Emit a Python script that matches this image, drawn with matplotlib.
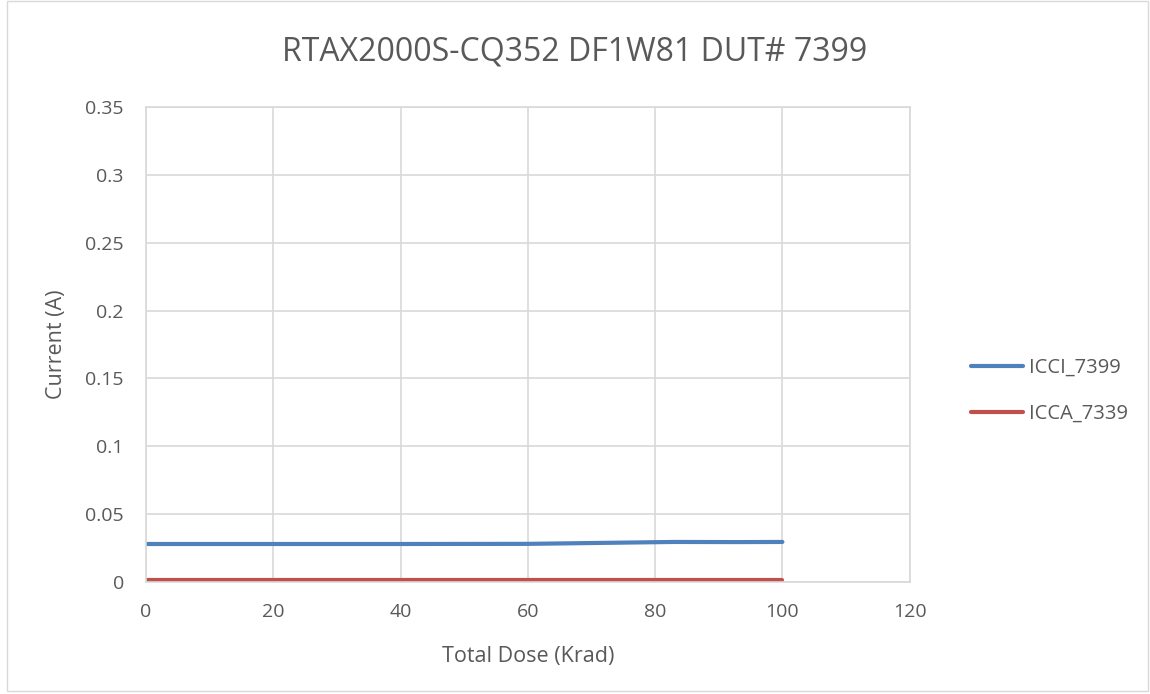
import matplotlib
matplotlib.use("Agg")
import matplotlib.pyplot as plt
from matplotlib.patches import Rectangle

dose = [0, 20, 40, 60, 83, 93, 100]
icci_7399 = [0.0280, 0.0280, 0.0280, 0.0281, 0.0295, 0.0294, 0.0295]
icca_7339 = [0.0012, 0.0012, 0.0012, 0.0012, 0.0012, 0.0012, 0.0012]
xticks = [0, 20, 40, 60, 80, 100, 120]
yticks = [0, 0.05, 0.1, 0.15, 0.2, 0.25, 0.3, 0.35]
ytick_labels = ["0", "0.05", "0.1", "0.15", "0.2", "0.25", "0.3", "0.35"]

plt.rcParams['font.family'] = ['Open Sans', 'DejaVu Sans']
txt = '#595959'
fig = plt.figure(figsize=(11.5, 6.94), dpi=100)
fig.patches.append(Rectangle((0.006, 0.005), 0.992, 0.993, transform=fig.transFigure,
                             fill=False, edgecolor='#d9d9d9', linewidth=1))
ax = fig.add_axes([0.127, 0.1614, 0.664, 0.6844])
ax.plot(dose, icci_7399, color='#4f81bd', linewidth=3, label='ICCI_7399', solid_capstyle='round')
ax.plot(dose, icca_7339, color='#c0504d', linewidth=3, label='ICCA_7339', solid_capstyle='round')
ax.set_xlim(0, 120)
ax.set_ylim(0, 0.35)
ax.set_xticks(xticks)
ax.set_yticks(yticks)
ax.set_yticklabels(ytick_labels)
ax.grid(True, color='#d9d9d9', linewidth=1.2)
ax.set_axisbelow(True)
for s in ax.spines.values():
    s.set_color('#d9d9d9')
    s.set_linewidth(1.2)
ax.tick_params(axis='y', length=0, labelsize=14, colors=txt, pad=16)
ax.tick_params(axis='x', length=0, labelsize=14, colors=txt, pad=15)
ax.set_xlabel('Total Dose (Krad)', fontsize=15.5, color=txt, labelpad=18)
ax.set_ylabel('Current (A)', fontsize=15.5, color=txt, labelpad=13)
fig.text(0.5, 0.925, 'RTAX2000S-CQ352 DF1W81 DUT# 7399', ha='center', va='center',
         fontsize=23, color=txt)
leg = ax.legend(loc='center left', bbox_to_anchor=(1.056, 0.402), frameon=False,
                fontsize=14.5, handlelength=2.6, labelspacing=1.3, handletextpad=0.3)
for t in leg.get_texts():
    t.set_color(txt)
fig.savefig('out.png', dpi=100)
